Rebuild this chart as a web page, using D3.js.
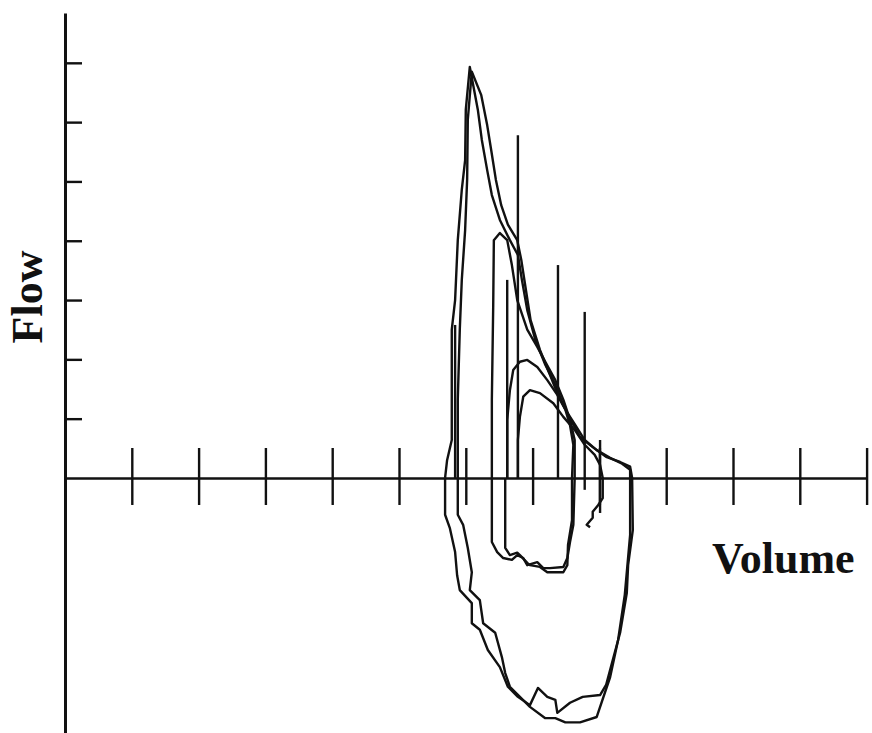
<!DOCTYPE html>
<html>
<head>
<meta charset="utf-8">
<script src="https://cdn.jsdelivr.net/npm/d3@7"></script>
<style>
  body { margin: 0; background: #fff; }
  svg { display: block; }
  .loop { fill: none; stroke: #111; stroke-width: 2.4; stroke-linejoin: round; }
  .spike { stroke: #111; stroke-width: 2.4; }
  .axis path, .axis line { stroke: #111; }
  .label { font-family: "Liberation Serif", "Times New Roman", serif; font-weight: bold; font-size: 44px; fill: #111; }
</style>
</head>
<body>
<script>
// volume ticks (no labels) and flow ticks
var volumeTicks = [1, 2, 3, 4, 5, 6, 7, 8, 9, 10, 11, 12];
var flowTicks = [1, 2, 3, 4, 5, 6, 7];

// loops as [volume, flow]
var loopA1 = [[5.69,0],[5.72,0.30],[5.79,0.64],[5.79,2.50],[5.84,3.00],[5.88,4.01],[5.94,4.86],[5.99,5.36],
  [6.00,6.21],[6.06,6.93],[6.11,6.63],[6.18,6.21],[6.24,5.70],[6.32,5.19],[6.39,4.77],[6.51,4.35],[6.66,4.01],
  [6.78,3.76],[6.84,3.34],[6.92,2.83],[7.04,2.33],[7.19,1.91],[7.34,1.57],[7.46,1.23],[7.59,0.94],[7.71,0.69],
  [7.90,0.52],[8.11,0.35],[8.31,0.27],[8.46,0.19],[8.49,0],
  [8.50,-0.88],[8.43,-1.47],[8.41,-1.94],[8.31,-2.61],[8.20,-3.07],[8.10,-3.49],[8.01,-3.66],[7.75,-3.69],
  [7.56,-3.79],[7.37,-3.96],[7.34,-3.74],[7.22,-3.69],[7.08,-3.54],[6.96,-3.83],[6.78,-3.69],[6.63,-3.52],
  [6.51,-3.19],[6.33,-2.90],[6.21,-2.56],[6.09,-2.45],[6.09,-2.11],[5.91,-1.89],[5.87,-1.64],[5.84,-1.25],
  [5.76,-0.84],[5.69,-0.62],[5.69,0]];

var loopA2 = [[5.88,0],[5.88,1.32],[5.91,2.50],[5.94,3.34],[5.99,4.18],[6.02,5.03],[6.03,6.04],[6.09,6.85],
  [6.23,6.46],[6.32,5.95],[6.38,5.53],[6.45,5.03],[6.53,4.60],[6.63,4.27],[6.77,4.01],[6.83,3.68],[6.90,3.17],
  [6.97,2.66],[7.11,2.16],[7.26,1.74],[7.38,1.40],[7.52,1.10],[7.64,0.89],[7.78,0.64],[7.96,0.47],[8.16,0.34],
  [8.34,0.24],[8.46,0.14],[8.46,0],
  [8.46,-0.96],[8.38,-1.97],[8.28,-2.73],[8.16,-3.36],[7.96,-4.03],[7.71,-4.12],[7.49,-4.12],[7.34,-4.05],
  [7.19,-4.05],[6.96,-3.86],[6.66,-3.52],[6.59,-3.29],[6.54,-3.02],[6.44,-2.61],[6.26,-2.45],[6.21,-2.06],
  [6.06,-1.89],[6.09,-1.59],[6.03,-1.18],[5.96,-0.79],[5.88,-0.62],[5.88,0]];

var loopB1 = [[6.39,0],[6.39,1.32],[6.41,2.88],[6.42,4.01],[6.51,4.13],[6.62,4.01],[6.69,3.59],[6.77,3.00],
  [6.92,2.50],[7.07,2.21],[7.19,1.96],[7.34,1.65],[7.46,1.32],[7.56,0.98],[7.63,0.64],[7.63,0],
  [7.61,-0.79],[7.56,-1.08],[7.52,-1.35],[7.46,-1.50],[7.26,-1.52],[7.16,-1.52],[7.07,-1.42],[6.92,-1.47],
  [6.86,-1.35],[6.77,-1.30],[6.69,-1.38],[6.56,-1.35],[6.47,-1.25],[6.39,-1.08],[6.39,0]];

var loopB2 = [[6.62,0],[6.62,0.98],[6.66,1.48],[6.71,1.82],[6.81,1.96],[6.92,1.99],[7.07,1.87],[7.22,1.65],
  [7.37,1.40],[7.49,1.15],[7.56,0.89],[7.61,0.56],[7.59,0],
  [7.59,-0.71],[7.53,-1.13],[7.52,-1.47],[7.46,-1.59],[7.22,-1.59],[7.11,-1.50],[6.96,-1.47],[6.92,-1.43],
  [6.81,-1.30],[6.77,-1.26],[6.66,-1.30],[6.59,-1.18],[6.59,0]];

var loopC = [[6.78,0],[6.78,0.64],[6.81,1.03],[6.86,1.37],[6.96,1.48],[7.11,1.43],[7.31,1.26],[7.46,1.03],
  [7.63,0.81],[7.78,0.56],[7.93,0.39],[8.01,0.22],[8.05,0],[8.05,-0.34],[7.98,-0.46],[7.90,-0.57],
  [7.90,-0.67],[7.81,-0.79],[7.86,-0.83]];

// vertical artefact spikes: [volume, top flow, bottom flow]
var spikes = [[6.78,5.78,0],[7.38,3.59,0],[7.78,2.80,-0.20],[8.01,0.64,-0.59],[6.62,3.34,0],[5.84,2.58,0]];

var width = 872, height = 733;

var svg = d3.select("body").append("svg")
            .attr("width", width)
            .attr("height", height);

var x = d3.scaleLinear().domain([0, 12]).range([65, 866.6]);
var y = d3.scaleLinear().domain([-4.3, 7.84]).range([733, 13]);

// x axis, ticks cross the line
var xAxis = svg.append("g")
               .attr("class", "axis")
               .attr("transform", "translate(0," + y(0) + ")")
               .call(d3.axisBottom(x).tickValues(volumeTicks).tickSizeOuter(0).tickFormat(""));
xAxis.select(".domain").attr("stroke-width", 2.6);
xAxis.selectAll(".tick line")
     .attr("y1", -30)
     .attr("y2", 27)
     .attr("stroke-width", 2.4);

// y axis with short ticks on the right
var yAxis = svg.append("g")
               .attr("class", "axis")
               .attr("transform", "translate(" + x(0) + ",0)")
               .call(d3.axisRight(y).tickValues(flowTicks).tickSize(17).tickSizeOuter(0).tickFormat(""));
yAxis.select(".domain").attr("stroke-width", 3);
yAxis.selectAll(".tick line").attr("stroke-width", 2.4);

var line = d3.line()
             .x(function(d) { return x(d[0]); })
             .y(function(d) { return y(d[1]); });

svg.selectAll("path.loop")
   .data([loopA1, loopA2, loopB1, loopB2, loopC])
   .enter().append("path")
   .attr("class", "loop")
   .attr("d", line);

svg.selectAll("line.spike")
   .data(spikes)
   .enter().append("line")
   .attr("class", "spike")
   .attr("x1", function(d) { return x(d[0]); })
   .attr("x2", function(d) { return x(d[0]); })
   .attr("y1", function(d) { return y(d[1]); })
   .attr("y2", function(d) { return y(d[2]); });

svg.append("text")
   .attr("class", "label")
   .attr("transform", "translate(42,297) rotate(-90)")
   .attr("text-anchor", "middle")
   .text("Flow");

svg.append("text")
   .attr("class", "label")
   .attr("x", 712)
   .attr("y", 573)
   .text("Volume");
</script>
</body>
</html>
